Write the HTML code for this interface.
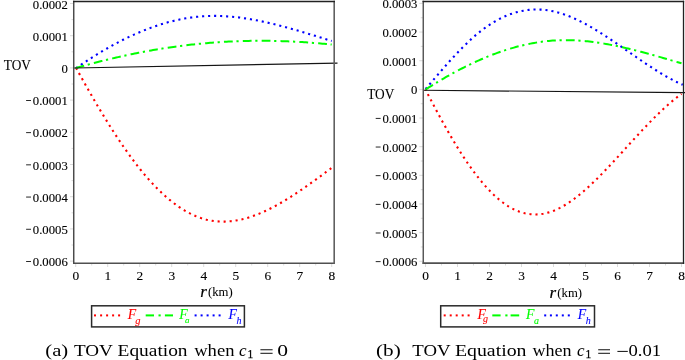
<!DOCTYPE html>
<html><head><meta charset="utf-8"><style>
html,body{margin:0;padding:0;background:#fff;}
svg{display:block;will-change:transform;}
.lab{font-family:"Liberation Serif",serif;font-size:13.4px;fill:#000;stroke:#000;stroke-width:0.12px;}
.txt{font-family:"Liberation Serif",serif;}
</style></head><body>
<svg width="685" height="360" viewBox="0 0 685 360">
<rect width="685" height="360" fill="#fff"/>
<rect x="260.4" y="349.3" width="12.2" height="0.95" fill="#000"/><rect x="260.4" y="352.8" width="12.2" height="0.95" fill="#000"/><rect x="598.2" y="349.3" width="11.8" height="0.95" fill="#000"/><rect x="598.2" y="352.8" width="11.8" height="0.95" fill="#000"/><rect x="617.4" y="350.9" width="10.4" height="0.95" fill="#000"/><g stroke="#d0d0d0" stroke-width="0.8"><line x1="70" y1="3.5" x2="74" y2="3.5"/><line x1="70" y1="35.7" x2="74" y2="35.7"/><line x1="70" y1="67.9" x2="74" y2="67.9"/><line x1="70" y1="100.1" x2="74" y2="100.1"/><line x1="70" y1="132.3" x2="74" y2="132.3"/><line x1="70" y1="164.5" x2="74" y2="164.5"/><line x1="70" y1="196.7" x2="74" y2="196.7"/><line x1="70" y1="228.9" x2="74" y2="228.9"/><line x1="70" y1="261.1" x2="74" y2="261.1"/><line x1="71.5" y1="19.6" x2="74" y2="19.6"/><line x1="71.5" y1="51.8" x2="74" y2="51.8"/><line x1="71.5" y1="84" x2="74" y2="84"/><line x1="71.5" y1="116.2" x2="74" y2="116.2"/><line x1="71.5" y1="148.4" x2="74" y2="148.4"/><line x1="71.5" y1="180.6" x2="74" y2="180.6"/><line x1="71.5" y1="212.8" x2="74" y2="212.8"/><line x1="71.5" y1="245" x2="74" y2="245"/><line x1="75.7" y1="263" x2="75.7" y2="267"/><line x1="91.7" y1="263" x2="91.7" y2="265.5"/><line x1="107.7" y1="263" x2="107.7" y2="267"/><line x1="123.7" y1="263" x2="123.7" y2="265.5"/><line x1="139.7" y1="263" x2="139.7" y2="267"/><line x1="155.7" y1="263" x2="155.7" y2="265.5"/><line x1="171.7" y1="263" x2="171.7" y2="267"/><line x1="187.7" y1="263" x2="187.7" y2="265.5"/><line x1="203.7" y1="263" x2="203.7" y2="267"/><line x1="219.7" y1="263" x2="219.7" y2="265.5"/><line x1="235.7" y1="263" x2="235.7" y2="267"/><line x1="251.7" y1="263" x2="251.7" y2="265.5"/><line x1="267.7" y1="263" x2="267.7" y2="267"/><line x1="283.7" y1="263" x2="283.7" y2="265.5"/><line x1="299.7" y1="263" x2="299.7" y2="267"/><line x1="315.7" y1="263" x2="315.7" y2="265.5"/><line x1="331.7" y1="263" x2="331.7" y2="267"/></g>
<path d="M75.7,67.17 L77.54,70.53 L79.38,73.88 L81.23,77.2 L83.07,80.51 L84.91,83.79 L86.75,87.06 L88.59,90.31 L90.43,93.53 L92.28,96.73 L94.12,99.91 L95.96,103.06 L97.8,106.19 L99.64,109.29 L101.48,112.36 L103.33,115.41 L105.17,118.43 L107.01,121.42 L108.85,124.38 L110.69,127.3 L112.53,130.2 L114.38,133.06 L116.22,135.89 L118.06,138.68 L119.9,141.44 L121.74,144.17 L123.58,146.85 L125.43,149.5 L127.27,152.11 L129.11,154.68 L130.95,157.21 L132.79,159.7 L134.64,162.15 L136.48,164.56 L138.32,166.92 L140.16,169.24 L142,171.51 L143.84,173.73 L145.69,175.91 L147.53,178.05 L149.37,180.13 L151.21,182.17 L153.05,184.16 L154.89,186.1 L156.74,187.99 L158.58,189.83 L160.42,191.62 L162.26,193.37 L164.1,195.06 L165.94,196.71 L167.79,198.3 L169.63,199.84 L171.47,201.34 L173.31,202.78 L175.15,204.17 L176.99,205.5 L178.84,206.79 L180.68,208.02 L182.52,209.2 L184.36,210.33 L186.2,211.41 L188.05,212.43 L189.89,213.4 L191.73,214.31 L193.57,215.17 L195.41,215.97 L197.25,216.72 L199.1,217.42 L200.94,218.06 L202.78,218.64 L204.62,219.17 L206.46,219.65 L208.3,220.07 L210.15,220.44 L211.99,220.75 L213.83,221.02 L215.67,221.24 L217.51,221.4 L219.35,221.52 L221.2,221.59 L223.04,221.61 L224.88,221.59 L226.72,221.52 L228.56,221.41 L230.41,221.25 L232.25,221.05 L234.09,220.81 L235.93,220.52 L237.77,220.2 L239.61,219.83 L241.46,219.43 L243.3,218.98 L245.14,218.5 L246.98,217.99 L248.82,217.43 L250.66,216.84 L252.51,216.22 L254.35,215.56 L256.19,214.87 L258.03,214.15 L259.87,213.4 L261.71,212.61 L263.56,211.8 L265.4,210.96 L267.24,210.08 L269.08,209.18 L270.92,208.26 L272.76,207.31 L274.61,206.33 L276.45,205.33 L278.29,204.31 L280.13,203.26 L281.97,202.19 L283.82,201.1 L285.66,199.99 L287.5,198.86 L289.34,197.71 L291.18,196.54 L293.02,195.35 L294.87,194.15 L296.71,192.94 L298.55,191.7 L300.39,190.46 L302.23,189.2 L304.07,187.93 L305.92,186.64 L307.76,185.35 L309.6,184.04 L311.44,182.73 L313.28,181.4 L315.12,180.07 L316.97,178.73 L318.81,177.39 L320.65,176.04 L322.49,174.68 L324.33,173.32 L326.17,171.96 L328.02,170.6 L329.86,169.23 L331.7,167.86" stroke="#ff0000" stroke-width="2.1" stroke-dasharray="2.1 3.904" fill="none" stroke-dashoffset="-0.75"/>
<path d="M75.7,68.47 L77.54,67.18 L79.38,65.91 L81.23,64.65 L83.07,63.41 L84.91,62.18 L86.75,60.96 L88.59,59.75 L90.43,58.56 L92.28,57.38 L94.12,56.22 L95.96,55.07 L97.8,53.93 L99.64,52.81 L101.48,51.7 L103.33,50.61 L105.17,49.53 L107.01,48.47 L108.85,47.42 L110.69,46.38 L112.53,45.36 L114.38,44.36 L116.22,43.37 L118.06,42.39 L119.9,41.43 L121.74,40.49 L123.58,39.56 L125.43,38.65 L127.27,37.76 L129.11,36.88 L130.95,36.01 L132.79,35.17 L134.64,34.34 L136.48,33.52 L138.32,32.73 L140.16,31.95 L142,31.18 L143.84,30.44 L145.69,29.71 L147.53,29 L149.37,28.3 L151.21,27.62 L153.05,26.96 L154.89,26.32 L156.74,25.7 L158.58,25.09 L160.42,24.51 L162.26,23.94 L164.1,23.39 L165.94,22.86 L167.79,22.34 L169.63,21.85 L171.47,21.37 L173.31,20.91 L175.15,20.48 L176.99,20.06 L178.84,19.66 L180.68,19.28 L182.52,18.92 L184.36,18.58 L186.2,18.26 L188.05,17.96 L189.89,17.68 L191.73,17.42 L193.57,17.18 L195.41,16.96 L197.25,16.76 L199.1,16.59 L200.94,16.43 L202.78,16.29 L204.62,16.18 L206.46,16.08 L208.3,16.01 L210.15,15.96 L211.99,15.92 L213.83,15.91 L215.67,15.91 L217.51,15.94 L219.35,15.98 L221.2,16.04 L223.04,16.12 L224.88,16.22 L226.72,16.33 L228.56,16.46 L230.41,16.61 L232.25,16.77 L234.09,16.95 L235.93,17.15 L237.77,17.36 L239.61,17.58 L241.46,17.82 L243.3,18.08 L245.14,18.35 L246.98,18.63 L248.82,18.93 L250.66,19.24 L252.51,19.56 L254.35,19.89 L256.19,20.24 L258.03,20.6 L259.87,20.97 L261.71,21.35 L263.56,21.74 L265.4,22.14 L267.24,22.56 L269.08,22.98 L270.92,23.41 L272.76,23.85 L274.61,24.31 L276.45,24.77 L278.29,25.23 L280.13,25.71 L281.97,26.19 L283.82,26.68 L285.66,27.18 L287.5,27.69 L289.34,28.2 L291.18,28.71 L293.02,29.24 L294.87,29.77 L296.71,30.3 L298.55,30.84 L300.39,31.38 L302.23,31.93 L304.07,32.48 L305.92,33.03 L307.76,33.59 L309.6,34.15 L311.44,34.72 L313.28,35.28 L315.12,35.85 L316.97,36.42 L318.81,36.99 L320.65,37.56 L322.49,38.13 L324.33,38.7 L326.17,39.28 L328.02,39.85 L329.86,40.42 L331.7,40.99" stroke="#0000ff" stroke-width="2.1" stroke-dasharray="2.1 3.904" fill="none" stroke-dashoffset="-0.29"/>
<path d="M75.7,68.1 L77.54,67.56 L79.38,67.04 L81.23,66.51 L83.07,66 L84.91,65.48 L86.75,64.98 L88.59,64.47 L90.43,63.97 L92.28,63.48 L94.12,62.99 L95.96,62.51 L97.8,62.03 L99.64,61.56 L101.48,61.09 L103.33,60.63 L105.17,60.17 L107.01,59.72 L108.85,59.28 L110.69,58.83 L112.53,58.4 L114.38,57.97 L116.22,57.54 L118.06,57.12 L119.9,56.7 L121.74,56.29 L123.58,55.88 L125.43,55.48 L127.27,55.09 L129.11,54.7 L130.95,54.31 L132.79,53.93 L134.64,53.56 L136.48,53.19 L138.32,52.83 L140.16,52.47 L142,52.11 L143.84,51.77 L145.69,51.42 L147.53,51.09 L149.37,50.75 L151.21,50.43 L153.05,50.11 L154.89,49.79 L156.74,49.48 L158.58,49.17 L160.42,48.87 L162.26,48.58 L164.1,48.29 L165.94,48.01 L167.79,47.73 L169.63,47.45 L171.47,47.19 L173.31,46.92 L175.15,46.67 L176.99,46.42 L178.84,46.17 L180.68,45.93 L182.52,45.69 L184.36,45.47 L186.2,45.24 L188.05,45.02 L189.89,44.81 L191.73,44.6 L193.57,44.4 L195.41,44.2 L197.25,44.01 L199.1,43.83 L200.94,43.65 L202.78,43.47 L204.62,43.31 L206.46,43.14 L208.3,42.98 L210.15,42.83 L211.99,42.69 L213.83,42.54 L215.67,42.41 L217.51,42.28 L219.35,42.15 L221.2,42.04 L223.04,41.92 L224.88,41.81 L226.72,41.71 L228.56,41.61 L230.41,41.52 L232.25,41.44 L234.09,41.36 L235.93,41.28 L237.77,41.21 L239.61,41.14 L241.46,41.09 L243.3,41.03 L245.14,40.98 L246.98,40.94 L248.82,40.9 L250.66,40.87 L252.51,40.84 L254.35,40.82 L256.19,40.8 L258.03,40.79 L259.87,40.79 L261.71,40.79 L263.56,40.79 L265.4,40.8 L267.24,40.82 L269.08,40.84 L270.92,40.86 L272.76,40.89 L274.61,40.93 L276.45,40.97 L278.29,41.02 L280.13,41.07 L281.97,41.13 L283.82,41.19 L285.66,41.26 L287.5,41.33 L289.34,41.41 L291.18,41.49 L293.02,41.58 L294.87,41.67 L296.71,41.77 L298.55,41.88 L300.39,41.98 L302.23,42.1 L304.07,42.22 L305.92,42.34 L307.76,42.47 L309.6,42.61 L311.44,42.75 L313.28,42.89 L315.12,43.04 L316.97,43.19 L318.81,43.35 L320.65,43.52 L322.49,43.69 L324.33,43.86 L326.17,44.04 L328.02,44.23 L329.86,44.42 L331.7,44.61" stroke="#00ff00" stroke-width="2" stroke-dasharray="8.8 3.7 2.2 4.16" fill="none"/>
<line x1="74" y1="67.95" x2="337.5" y2="63.15" stroke="#151515" stroke-width="1.15"/>
<line x1="73" y1="263.2" x2="335" y2="263.2" stroke="#505050" stroke-width="1.55"/>
<line x1="73.73" y1="0.75" x2="73.73" y2="263.97" stroke="#4b4b4b" stroke-width="1.47"/>
<line x1="334.2" y1="0.75" x2="334.2" y2="263.97" stroke="#606060" stroke-width="1.6"/>
<line x1="73" y1="1.5" x2="335" y2="1.5" stroke="#222" stroke-width="1.5"/>
<g class="lab"><text transform="translate(67.8,8.5) scale(0.95,1)" text-anchor="end">0.0002</text><text transform="translate(67.8,40.7) scale(0.95,1)" text-anchor="end">0.0001</text><text transform="translate(67.8,72.9) scale(0.95,1)" text-anchor="end">0</text><text transform="translate(67.8,105.1) scale(0.95,1)" text-anchor="end">0.0001</text><text transform="translate(67.8,137.3) scale(0.95,1)" text-anchor="end">0.0002</text><text transform="translate(67.8,169.5) scale(0.95,1)" text-anchor="end">0.0003</text><text transform="translate(67.8,201.7) scale(0.95,1)" text-anchor="end">0.0004</text><text transform="translate(67.8,233.9) scale(0.95,1)" text-anchor="end">0.0005</text><text transform="translate(67.8,266.1) scale(0.95,1)" text-anchor="end">0.0006</text><text x="75.9" y="279.9" text-anchor="middle">0</text><text x="107.9" y="279.9" text-anchor="middle">1</text><text x="139.9" y="279.9" text-anchor="middle">2</text><text x="171.9" y="279.9" text-anchor="middle">3</text><text x="203.9" y="279.9" text-anchor="middle">4</text><text x="235.9" y="279.9" text-anchor="middle">5</text><text x="267.9" y="279.9" text-anchor="middle">6</text><text x="299.9" y="279.9" text-anchor="middle">7</text><text x="331.9" y="279.9" text-anchor="middle">8</text></g><rect x="26.1" y="100" width="4.9" height="0.9" fill="#111"/><rect x="26.1" y="132.2" width="4.9" height="0.9" fill="#111"/><rect x="26.1" y="164.4" width="4.9" height="0.9" fill="#111"/><rect x="26.1" y="196.6" width="4.9" height="0.9" fill="#111"/><rect x="26.1" y="228.8" width="4.9" height="0.9" fill="#111"/><rect x="26.1" y="261" width="4.9" height="0.9" fill="#111"/>
<g stroke="#d0d0d0" stroke-width="0.8"><line x1="419.3" y1="3.4" x2="423.3" y2="3.4"/><line x1="419.3" y1="32.06" x2="423.3" y2="32.06"/><line x1="419.3" y1="60.71" x2="423.3" y2="60.71"/><line x1="419.3" y1="89.37" x2="423.3" y2="89.37"/><line x1="419.3" y1="118.02" x2="423.3" y2="118.02"/><line x1="419.3" y1="146.68" x2="423.3" y2="146.68"/><line x1="419.3" y1="175.33" x2="423.3" y2="175.33"/><line x1="419.3" y1="203.99" x2="423.3" y2="203.99"/><line x1="419.3" y1="232.64" x2="423.3" y2="232.64"/><line x1="419.3" y1="261.3" x2="423.3" y2="261.3"/><line x1="420.8" y1="17.73" x2="423.3" y2="17.73"/><line x1="420.8" y1="46.38" x2="423.3" y2="46.38"/><line x1="420.8" y1="75.04" x2="423.3" y2="75.04"/><line x1="420.8" y1="103.69" x2="423.3" y2="103.69"/><line x1="420.8" y1="132.35" x2="423.3" y2="132.35"/><line x1="420.8" y1="161.01" x2="423.3" y2="161.01"/><line x1="420.8" y1="189.66" x2="423.3" y2="189.66"/><line x1="420.8" y1="218.32" x2="423.3" y2="218.32"/><line x1="420.8" y1="246.97" x2="423.3" y2="246.97"/><line x1="425.5" y1="263" x2="425.5" y2="267"/><line x1="441.5" y1="263" x2="441.5" y2="265.5"/><line x1="457.5" y1="263" x2="457.5" y2="267"/><line x1="473.5" y1="263" x2="473.5" y2="265.5"/><line x1="489.5" y1="263" x2="489.5" y2="267"/><line x1="505.5" y1="263" x2="505.5" y2="265.5"/><line x1="521.5" y1="263" x2="521.5" y2="267"/><line x1="537.5" y1="263" x2="537.5" y2="265.5"/><line x1="553.5" y1="263" x2="553.5" y2="267"/><line x1="569.5" y1="263" x2="569.5" y2="265.5"/><line x1="585.5" y1="263" x2="585.5" y2="267"/><line x1="601.5" y1="263" x2="601.5" y2="265.5"/><line x1="617.5" y1="263" x2="617.5" y2="267"/><line x1="633.5" y1="263" x2="633.5" y2="265.5"/><line x1="649.5" y1="263" x2="649.5" y2="267"/><line x1="665.5" y1="263" x2="665.5" y2="265.5"/><line x1="681.5" y1="263" x2="681.5" y2="267"/></g>
<path d="M425.5,89.56 L427.34,93.15 L429.18,96.72 L431.03,100.26 L432.87,103.78 L434.71,107.27 L436.55,110.73 L438.39,114.16 L440.23,117.55 L442.08,120.91 L443.92,124.23 L445.76,127.51 L447.6,130.76 L449.44,133.96 L451.28,137.12 L453.13,140.24 L454.97,143.31 L456.81,146.33 L458.65,149.31 L460.49,152.23 L462.33,155.11 L464.18,157.93 L466.02,160.69 L467.86,163.4 L469.7,166.06 L471.54,168.65 L473.38,171.18 L475.23,173.65 L477.07,176.06 L478.91,178.4 L480.75,180.67 L482.59,182.88 L484.44,185.03 L486.28,187.1 L488.12,189.1 L489.96,191.04 L491.8,192.9 L493.64,194.69 L495.49,196.41 L497.33,198.05 L499.17,199.62 L501.01,201.11 L502.85,202.52 L504.69,203.86 L506.54,205.11 L508.38,206.29 L510.22,207.38 L512.06,208.4 L513.9,209.33 L515.74,210.18 L517.59,210.96 L519.43,211.65 L521.27,212.27 L523.11,212.81 L524.95,213.27 L526.79,213.65 L528.64,213.96 L530.48,214.19 L532.32,214.35 L534.16,214.42 L536,214.43 L537.85,214.36 L539.69,214.21 L541.53,213.99 L543.37,213.7 L545.21,213.33 L547.05,212.89 L548.9,212.38 L550.74,211.8 L552.58,211.15 L554.42,210.43 L556.26,209.64 L558.1,208.79 L559.95,207.87 L561.79,206.89 L563.63,205.86 L565.47,204.76 L567.31,203.61 L569.15,202.41 L571,201.15 L572.84,199.84 L574.68,198.49 L576.52,197.08 L578.36,195.63 L580.21,194.14 L582.05,192.6 L583.89,191.02 L585.73,189.41 L587.57,187.76 L589.41,186.07 L591.26,184.35 L593.1,182.6 L594.94,180.81 L596.78,179 L598.62,177.17 L600.46,175.3 L602.31,173.42 L604.15,171.51 L605.99,169.59 L607.83,167.65 L609.67,165.69 L611.51,163.71 L613.36,161.73 L615.2,159.73 L617.04,157.73 L618.88,155.71 L620.72,153.7 L622.56,151.67 L624.41,149.65 L626.25,147.62 L628.09,145.6 L629.93,143.57 L631.77,141.55 L633.62,139.54 L635.46,137.53 L637.3,135.53 L639.14,133.54 L640.98,131.56 L642.82,129.6 L644.67,127.64 L646.51,125.71 L648.35,123.79 L650.19,121.89 L652.03,120.01 L653.87,118.15 L655.72,116.32 L657.56,114.51 L659.4,112.72 L661.24,110.97 L663.08,109.24 L664.92,107.55 L666.77,105.89 L668.61,104.26 L670.45,102.66 L672.29,101.11 L674.13,99.59 L675.97,98.12 L677.82,96.68 L679.66,95.29 L681.5,93.94" stroke="#ff0000" stroke-width="2.1" stroke-dasharray="2.1 3.904" fill="none" stroke-dashoffset="0.89"/>
<path d="M425.5,89.11 L427.35,86.94 L429.2,84.77 L431.05,82.6 L432.9,80.43 L434.75,78.27 L436.6,76.11 L438.45,73.96 L440.3,71.82 L442.15,69.69 L444,67.57 L445.85,65.47 L447.7,63.39 L449.55,61.32 L451.41,59.28 L453.26,57.25 L455.11,55.25 L456.96,53.28 L458.81,51.34 L460.66,49.42 L462.51,47.54 L464.36,45.69 L466.21,43.88 L468.06,42.1 L469.91,40.37 L471.76,38.67 L473.61,37.01 L475.46,35.4 L477.31,33.84 L479.16,32.32 L481.01,30.86 L482.86,29.44 L484.71,28.08 L486.56,26.76 L488.41,25.49 L490.26,24.28 L492.11,23.11 L493.96,21.99 L495.81,20.92 L497.66,19.9 L499.51,18.93 L501.36,18.01 L503.22,17.13 L505.07,16.3 L506.92,15.52 L508.77,14.79 L510.62,14.11 L512.47,13.48 L514.32,12.89 L516.17,12.35 L518.02,11.86 L519.87,11.41 L521.72,11.01 L523.57,10.66 L525.42,10.36 L527.27,10.1 L529.12,9.89 L530.97,9.72 L532.82,9.6 L534.67,9.53 L536.52,9.5 L538.37,9.52 L540.22,9.58 L542.07,9.69 L543.92,9.84 L545.77,10.04 L547.62,10.29 L549.47,10.58 L551.32,10.91 L553.17,11.29 L555.03,11.71 L556.88,12.18 L558.73,12.68 L560.58,13.23 L562.43,13.82 L564.28,14.44 L566.13,15.11 L567.98,15.8 L569.83,16.54 L571.68,17.31 L573.53,18.11 L575.38,18.94 L577.23,19.8 L579.08,20.7 L580.93,21.62 L582.78,22.57 L584.63,23.54 L586.48,24.54 L588.33,25.57 L590.18,26.62 L592.03,27.69 L593.88,28.78 L595.73,29.9 L597.58,31.03 L599.43,32.18 L601.28,33.34 L603.13,34.52 L604.98,35.72 L606.84,36.93 L608.69,38.15 L610.54,39.39 L612.39,40.63 L614.24,41.88 L616.09,43.14 L617.94,44.41 L619.79,45.69 L621.64,46.97 L623.49,48.25 L625.34,49.53 L627.19,50.82 L629.04,52.11 L630.89,53.4 L632.74,54.68 L634.59,55.96 L636.44,57.24 L638.29,58.52 L640.14,59.79 L641.99,61.05 L643.84,62.3 L645.69,63.54 L647.54,64.78 L649.39,66 L651.24,67.21 L653.09,68.41 L654.94,69.59 L656.79,70.75 L658.65,71.9 L660.5,73.04 L662.35,74.15 L664.2,75.24 L666.05,76.31 L667.9,77.36 L669.75,78.39 L671.6,79.39 L673.45,80.37 L675.3,81.32 L677.15,82.24 L679,83.13 L680.85,84 L682.7,84.83" stroke="#0000ff" stroke-width="2.1" stroke-dasharray="2.1 3.904" fill="none" stroke-dashoffset="-0.05"/>
<path d="M425.5,89.53 L427.34,88.36 L429.18,87.2 L431.03,86.04 L432.87,84.9 L434.71,83.77 L436.55,82.65 L438.39,81.54 L440.23,80.45 L442.08,79.36 L443.92,78.29 L445.76,77.23 L447.6,76.18 L449.44,75.15 L451.28,74.12 L453.13,73.11 L454.97,72.11 L456.81,71.13 L458.65,70.15 L460.49,69.19 L462.33,68.25 L464.18,67.31 L466.02,66.39 L467.86,65.48 L469.7,64.59 L471.54,63.71 L473.38,62.85 L475.23,62 L477.07,61.16 L478.91,60.33 L480.75,59.53 L482.59,58.73 L484.44,57.95 L486.28,57.19 L488.12,56.44 L489.96,55.7 L491.8,54.99 L493.64,54.28 L495.49,53.59 L497.33,52.92 L499.17,52.26 L501.01,51.62 L502.85,51 L504.69,50.39 L506.54,49.79 L508.38,49.22 L510.22,48.66 L512.06,48.11 L513.9,47.59 L515.74,47.08 L517.59,46.58 L519.43,46.11 L521.27,45.65 L523.11,45.21 L524.95,44.78 L526.79,44.38 L528.64,43.99 L530.48,43.62 L532.32,43.27 L534.16,42.93 L536,42.62 L537.85,42.32 L539.69,42.04 L541.53,41.78 L543.37,41.54 L545.21,41.32 L547.05,41.12 L548.9,40.93 L550.74,40.77 L552.58,40.62 L554.42,40.5 L556.26,40.39 L558.1,40.3 L559.95,40.24 L561.79,40.19 L563.63,40.16 L565.47,40.15 L567.31,40.15 L569.15,40.18 L571,40.22 L572.84,40.28 L574.68,40.36 L576.52,40.45 L578.36,40.56 L580.21,40.68 L582.05,40.82 L583.89,40.98 L585.73,41.15 L587.57,41.34 L589.41,41.54 L591.26,41.75 L593.1,41.98 L594.94,42.22 L596.78,42.48 L598.62,42.74 L600.46,43.03 L602.31,43.32 L604.15,43.62 L605.99,43.94 L607.83,44.27 L609.67,44.61 L611.51,44.96 L613.36,45.32 L615.2,45.69 L617.04,46.07 L618.88,46.46 L620.72,46.86 L622.56,47.27 L624.41,47.69 L626.25,48.11 L628.09,48.55 L629.93,48.99 L631.77,49.44 L633.62,49.9 L635.46,50.36 L637.3,50.83 L639.14,51.31 L640.98,51.79 L642.82,52.28 L644.67,52.77 L646.51,53.27 L648.35,53.77 L650.19,54.28 L652.03,54.8 L653.87,55.31 L655.72,55.83 L657.56,56.36 L659.4,56.88 L661.24,57.41 L663.08,57.94 L664.92,58.48 L666.77,59.01 L668.61,59.55 L670.45,60.09 L672.29,60.63 L674.13,61.17 L675.97,61.71 L677.82,62.25 L679.66,62.79 L681.5,63.33" stroke="#00ff00" stroke-width="2" stroke-dasharray="8.8 3.7 2.2 4.16" fill="none"/>
<line x1="423.3" y1="90.3" x2="685" y2="92.6" stroke="#151515" stroke-width="1.15"/>
<line x1="422.53" y1="263.1" x2="684.15" y2="263.1" stroke="#505050" stroke-width="1.55"/>
<line x1="423.27" y1="0.85" x2="423.27" y2="263.88" stroke="#585858" stroke-width="1.47"/>
<line x1="683.5" y1="0.85" x2="683.5" y2="263.88" stroke="#222" stroke-width="1.3"/>
<line x1="422.53" y1="1.6" x2="684.15" y2="1.6" stroke="#222" stroke-width="1.5"/>
<g class="lab"><text transform="translate(417.4,8.4) scale(0.95,1)" text-anchor="end">0.0003</text><text transform="translate(417.4,37.06) scale(0.95,1)" text-anchor="end">0.0002</text><text transform="translate(417.4,65.71) scale(0.95,1)" text-anchor="end">0.0001</text><text transform="translate(417.4,94.37) scale(0.95,1)" text-anchor="end">0</text><text transform="translate(417.4,123.02) scale(0.95,1)" text-anchor="end">0.0001</text><text transform="translate(417.4,151.68) scale(0.95,1)" text-anchor="end">0.0002</text><text transform="translate(417.4,180.33) scale(0.95,1)" text-anchor="end">0.0003</text><text transform="translate(417.4,208.99) scale(0.95,1)" text-anchor="end">0.0004</text><text transform="translate(417.4,237.64) scale(0.95,1)" text-anchor="end">0.0005</text><text transform="translate(417.4,266.3) scale(0.95,1)" text-anchor="end">0.0006</text><text x="425.7" y="279.9" text-anchor="middle">0</text><text x="457.7" y="279.9" text-anchor="middle">1</text><text x="489.7" y="279.9" text-anchor="middle">2</text><text x="521.7" y="279.9" text-anchor="middle">3</text><text x="553.7" y="279.9" text-anchor="middle">4</text><text x="585.7" y="279.9" text-anchor="middle">5</text><text x="617.7" y="279.9" text-anchor="middle">6</text><text x="649.7" y="279.9" text-anchor="middle">7</text><text x="681.7" y="279.9" text-anchor="middle">8</text></g><rect x="375.7" y="117.92" width="4.9" height="0.9" fill="#111"/><rect x="375.7" y="146.58" width="4.9" height="0.9" fill="#111"/><rect x="375.7" y="175.23" width="4.9" height="0.9" fill="#111"/><rect x="375.7" y="203.89" width="4.9" height="0.9" fill="#111"/><rect x="375.7" y="232.54" width="4.9" height="0.9" fill="#111"/><rect x="375.7" y="261.2" width="4.9" height="0.9" fill="#111"/>
<rect x="91.6" y="305.8" width="152.8" height="21.1" fill="#fff" stroke="#2a2a2a" stroke-width="1.5"/><rect x="94" y="314.4" width="2" height="2" fill="#ff0000"/><rect x="100.1" y="314.4" width="2" height="2" fill="#ff0000"/><rect x="106.1" y="314.4" width="2" height="2" fill="#ff0000"/><rect x="112.1" y="314.4" width="2" height="2" fill="#ff0000"/><rect x="118.1" y="314.4" width="2" height="2" fill="#ff0000"/><rect x="194.6" y="314.4" width="2" height="2" fill="#0000ff"/><rect x="200.6" y="314.4" width="2" height="2" fill="#0000ff"/><rect x="206.6" y="314.4" width="2" height="2" fill="#0000ff"/><rect x="212.6" y="314.4" width="2" height="2" fill="#0000ff"/><rect x="218.6" y="314.4" width="2" height="2" fill="#0000ff"/><rect x="145.7" y="314.4" width="8.3" height="2" fill="#00ff00"/><rect x="158.5" y="314.4" width="2.2" height="2" fill="#00ff00"/><rect x="164.9" y="314.4" width="8.1" height="2" fill="#00ff00"/><rect x="440.7" y="305.8" width="153.8" height="21.1" fill="#fff" stroke="#2a2a2a" stroke-width="1.5"/><rect x="443.7" y="314.4" width="2" height="2" fill="#ff0000"/><rect x="449.7" y="314.4" width="2" height="2" fill="#ff0000"/><rect x="455.7" y="314.4" width="2" height="2" fill="#ff0000"/><rect x="461.7" y="314.4" width="2" height="2" fill="#ff0000"/><rect x="467.6" y="314.4" width="2" height="2" fill="#ff0000"/><rect x="544.2" y="314.4" width="2" height="2" fill="#0000ff"/><rect x="549.9" y="314.4" width="2" height="2" fill="#0000ff"/><rect x="555.8" y="314.4" width="2" height="2" fill="#0000ff"/><rect x="561.8" y="314.4" width="2" height="2" fill="#0000ff"/><rect x="567.8" y="314.4" width="2" height="2" fill="#0000ff"/><rect x="492.3" y="314.4" width="8.3" height="2" fill="#00ff00"/><rect x="505.3" y="314.4" width="2.2" height="2" fill="#00ff00"/><rect x="510.6" y="314.4" width="8.6" height="2" fill="#00ff00"/>
<g class="txt"><text x="3.8" y="69.5" font-size="13.6" fill="#000" stroke="#000" stroke-width="0.08" textLength="27.17" lengthAdjust="spacingAndGlyphs">TOV</text>
<text x="367.2" y="98.9" font-size="13.6" fill="#000" stroke="#000" stroke-width="0.08" textLength="27.17" lengthAdjust="spacingAndGlyphs">TOV</text>
<text x="200.2" y="297.2" font-size="17" font-style="italic" fill="#000" stroke="#000" stroke-width="0.2">r</text>
<text x="208" y="296" font-size="12" fill="#000" stroke="#000" stroke-width="0.05" textLength="24.71" lengthAdjust="spacingAndGlyphs">(km)</text>
<text x="549.6" y="297.9" font-size="17" font-style="italic" fill="#000" stroke="#000" stroke-width="0.2">r</text>
<text x="557.3" y="296.6" font-size="12" fill="#000" stroke="#000" stroke-width="0.05" textLength="24.71" lengthAdjust="spacingAndGlyphs">(km)</text>
<text x="127.8" y="318.9" font-size="13.8" font-style="italic" fill="#ff0000" stroke="#ff0000" stroke-width="0.1">F</text>
<text x="135.2" y="323.9" font-size="10.5" font-style="italic" fill="#ff0000" stroke="#ff0000" stroke-width="0.1">g</text>
<text x="179.2" y="318.6" font-size="13.8" font-style="italic" fill="#00ff00" stroke="#00ff00" stroke-width="0.1">F</text>
<text x="185" y="322.8" font-size="9" font-style="italic" fill="#00ff00" stroke="#00ff00" stroke-width="0.1">a</text>
<text x="228.5" y="319" font-size="13.8" font-style="italic" fill="#0000ff" stroke="#0000ff" stroke-width="0.1">F</text>
<text x="236.6" y="324.2" font-size="10" font-style="italic" fill="#0000ff" stroke="#0000ff" stroke-width="0.1">h</text>
<text x="477.4" y="318.5" font-size="13.8" font-style="italic" fill="#ff0000" stroke="#ff0000" stroke-width="0.1">F</text>
<text x="483" y="322.3" font-size="10" font-style="italic" fill="#ff0000" stroke="#ff0000" stroke-width="0.1">g</text>
<text x="526.1" y="318.9" font-size="13.8" font-style="italic" fill="#00ff00" stroke="#00ff00" stroke-width="0.1">F</text>
<text x="533.9" y="323.5" font-size="10" font-style="italic" fill="#00ff00" stroke="#00ff00" stroke-width="0.1">a</text>
<text x="577.8" y="319.2" font-size="13.8" font-style="italic" fill="#0000ff" stroke="#0000ff" stroke-width="0.1">F</text>
<text x="585.7" y="324" font-size="10" font-style="italic" fill="#0000ff" stroke="#0000ff" stroke-width="0.1">h</text>
<text x="45.29" y="356.1" font-size="17" fill="#000" stroke="#000" stroke-width="0" textLength="22.89" lengthAdjust="spacingAndGlyphs">(a)</text>
<text x="73.9" y="356.1" font-size="17" fill="#000" stroke="#000" stroke-width="0" textLength="38.94" lengthAdjust="spacingAndGlyphs">TOV</text>
<text x="117.56" y="356.1" font-size="17" fill="#000" stroke="#000" stroke-width="0" textLength="70.03" lengthAdjust="spacingAndGlyphs">Equation</text>
<text x="194.2" y="356.1" font-size="17" fill="#000" stroke="#000" stroke-width="0" textLength="40.3" lengthAdjust="spacingAndGlyphs">when</text>
<text x="277.33" y="356.1" font-size="17" fill="#000" stroke="#000" stroke-width="0" textLength="10.77" lengthAdjust="spacingAndGlyphs">0</text>
<text x="376.05" y="356.1" font-size="17" fill="#000" stroke="#000" stroke-width="0" textLength="24.73" lengthAdjust="spacingAndGlyphs">(b)</text>
<text x="412.3" y="356.1" font-size="17" fill="#000" stroke="#000" stroke-width="0" textLength="38.31" lengthAdjust="spacingAndGlyphs">TOV</text>
<text x="454.93" y="356.1" font-size="17" fill="#000" stroke="#000" stroke-width="0" textLength="71.59" lengthAdjust="spacingAndGlyphs">Equation</text>
<text x="532.4" y="356.1" font-size="17" fill="#000" stroke="#000" stroke-width="0" textLength="39.14" lengthAdjust="spacingAndGlyphs">when</text>
<text x="628.5" y="356.1" font-size="17" fill="#000" stroke="#000" stroke-width="0" textLength="32.61" lengthAdjust="spacingAndGlyphs">0.01</text>
<text x="247.4" y="358.2" font-size="11.5" fill="#000" stroke="#000" stroke-width="0.25">1</text>
<text x="585.4" y="358.2" font-size="11.5" fill="#000" stroke="#000" stroke-width="0.25">1</text>
<text x="239" y="356.1" font-size="17" font-style="italic" fill="#000" stroke="#000" stroke-width="0">c</text>
<text x="576.9" y="356.1" font-size="17" font-style="italic" fill="#000" stroke="#000" stroke-width="0">c</text></g>
</svg>
</body></html>
